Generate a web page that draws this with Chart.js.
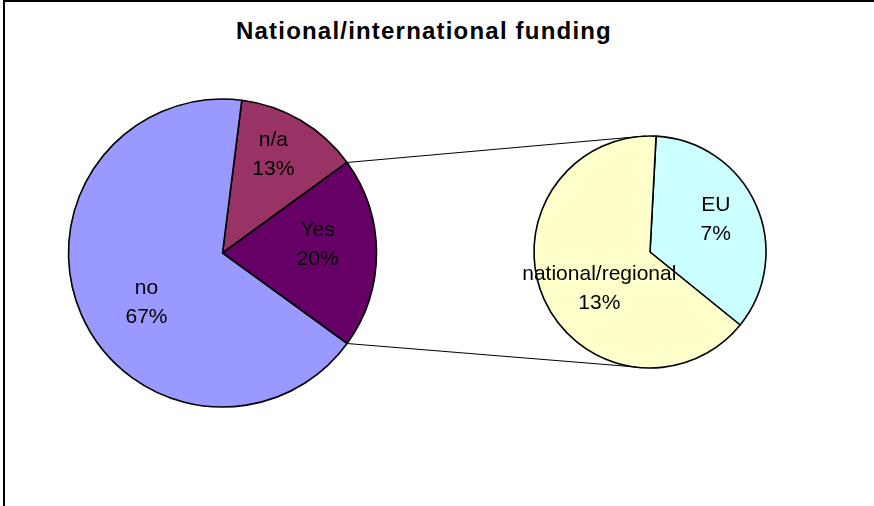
<!DOCTYPE html>
<html>
<head>
<meta charset="utf-8">
<title>National/international funding</title>
<script src="https://cdn.jsdelivr.net/npm/chart.js@4.4.1/dist/chart.umd.min.js"></script>
<style>
    html, body { margin: 0; padding: 0; background: #fff; overflow: hidden; }
    #wrap { position: relative; width: 874px; height: 506px; overflow: hidden; background: #fff; }
    #frame { position: absolute; left: 3px; top: 0; width: 900px; height: 540px; border: 2px solid #000; box-sizing: border-box; }
    #titulo { position: absolute; left: 0; top: 19px; width: 848px; text-align: center; color: #000;
              font: bold 24px "Liberation Sans", Arial, sans-serif; line-height: 24px; letter-spacing: 1.2px; }
    canvas { position: absolute; left: 0; top: 0; }
</style>
</head>
<body>
<div id="wrap">
    <div id="frame"></div>
    <div id="titulo">National/international funding</div>
    <canvas id="chartMain" width="874" height="506"></canvas>
    <canvas id="chartSplit" width="874" height="506"></canvas>
</div>
<script>
// Datos del gráfico (porcentajes)
const mainLabels = ['n/a', 'Yes', 'no'];
const mainValues = [13, 20, 67];
const mainColors = ['#993366', '#660066', '#9999FF'];

const splitLabels = ['EU', 'national/regional'];
const splitValues = [7, 13];
const splitColors = ['#CCFFFF', '#FFFFCC'];

const fuente = '"Liberation Sans", Arial, sans-serif';
const totalGeneral = mainValues.reduce((a, b) => a + b, 0);

// "Yes" queda centrado en el lado derecho, como en un gráfico circular con subgráfico
const idxYes = mainLabels.indexOf('Yes');
const antesYes = mainValues.slice(0, idxYes).reduce((a, b) => a + b, 0);
const rotacionMain = 90 - (antesYes + mainValues[idxYes] / 2) / totalGeneral * 360;

// Etiquetas de nombre + porcentaje dentro de cada sector
const etiquetasPlugin = {
    id: 'etiquetas',
    afterDatasetsDraw(chart, args, opts) {
        const ctx = chart.ctx;
        const meta = chart.getDatasetMeta(0);
        const labels = chart.data.labels;
        const values = chart.data.datasets[0].data;
        ctx.save();
        ctx.font = '21px ' + fuente;
        ctx.fillStyle = '#000';
        ctx.textAlign = 'center';
        ctx.textBaseline = 'middle';
        meta.data.forEach((arc, i) => {
            const p = arc.getProps(['x', 'y', 'startAngle', 'endAngle', 'outerRadius'], true);
            const ang = (p.startAngle + p.endAngle) / 2 + opts.turn[i] * Math.PI / 180;
            const r = p.outerRadius * opts.radius[i];
            const cx = p.x + Math.cos(ang) * r;
            const cy = p.y + Math.sin(ang) * r;
            const pct = Math.round(values[i] / totalGeneral * 100) + '%';
            ctx.fillText(labels[i], cx, cy - 14.5);
            ctx.fillText(pct, cx, cy + 14.5);
        });
        ctx.restore();
    }
};

let graficoPrincipal = null;

// Líneas que unen el sector "Yes" con el círculo de desglose
const conectoresPlugin = {
    id: 'conectores',
    afterDraw(chart) {
        if (!graficoPrincipal) return;
        const a = graficoPrincipal.getDatasetMeta(0).data[idxYes]
            .getProps(['x', 'y', 'startAngle', 'endAngle', 'outerRadius'], true);
        const s = chart.getDatasetMeta(0).data[0].getProps(['x', 'y', 'outerRadius'], true);
        const ctx = chart.ctx;
        const dx = -s.outerRadius * 0.04;
        ctx.save();
        ctx.strokeStyle = '#000';
        ctx.lineWidth = 1;
        ctx.beginPath();
        ctx.moveTo(a.x + Math.cos(a.startAngle) * a.outerRadius, a.y + Math.sin(a.startAngle) * a.outerRadius);
        ctx.lineTo(s.x + dx, s.y - s.outerRadius);
        ctx.moveTo(a.x + Math.cos(a.endAngle) * a.outerRadius, a.y + Math.sin(a.endAngle) * a.outerRadius);
        ctx.lineTo(s.x + dx * 3, s.y + s.outerRadius - 1);
        ctx.stroke();
        ctx.restore();
    }
};

function renderCharts() {
    graficoPrincipal = new Chart(document.getElementById('chartMain'), {
        type: 'pie',
        data: {
            labels: mainLabels,
            datasets: [{
                data: mainValues,
                backgroundColor: mainColors,
                borderColor: '#000',
                borderWidth: 1.6
            }]
        },
        options: {
            responsive: false,
            animation: false,
            events: [],
            rotation: rotacionMain,
            layout: { padding: { left: 67.7, top: 98.2, right: 496.7, bottom: 98.2 } },
            plugins: {
                legend: { display: false },
                tooltip: { enabled: false },
                etiquetas: { radius: [0.72, 0.62, 0.59], turn: [-3.3, -4.8, -9.8] }
            }
        },
        plugins: [etiquetasPlugin]
    });

    new Chart(document.getElementById('chartSplit'), {
        type: 'pie',
        data: {
            labels: splitLabels,
            datasets: [{
                data: splitValues,
                backgroundColor: splitColors,
                borderColor: '#000',
                borderWidth: 1.6
            }]
        },
        options: {
            responsive: false,
            animation: false,
            events: [],
            rotation: 3,
            layout: { padding: { left: 533.2, top: 135.2, right: 107.2, bottom: 137.2 } },
            plugins: {
                legend: { display: false },
                tooltip: { enabled: false },
                etiquetas: { radius: [0.63, 0.54], turn: [-1.9, -12] }
            }
        },
        plugins: [etiquetasPlugin, conectoresPlugin]
    });
}

document.addEventListener('DOMContentLoaded', renderCharts);
</script>
</body>
</html>
